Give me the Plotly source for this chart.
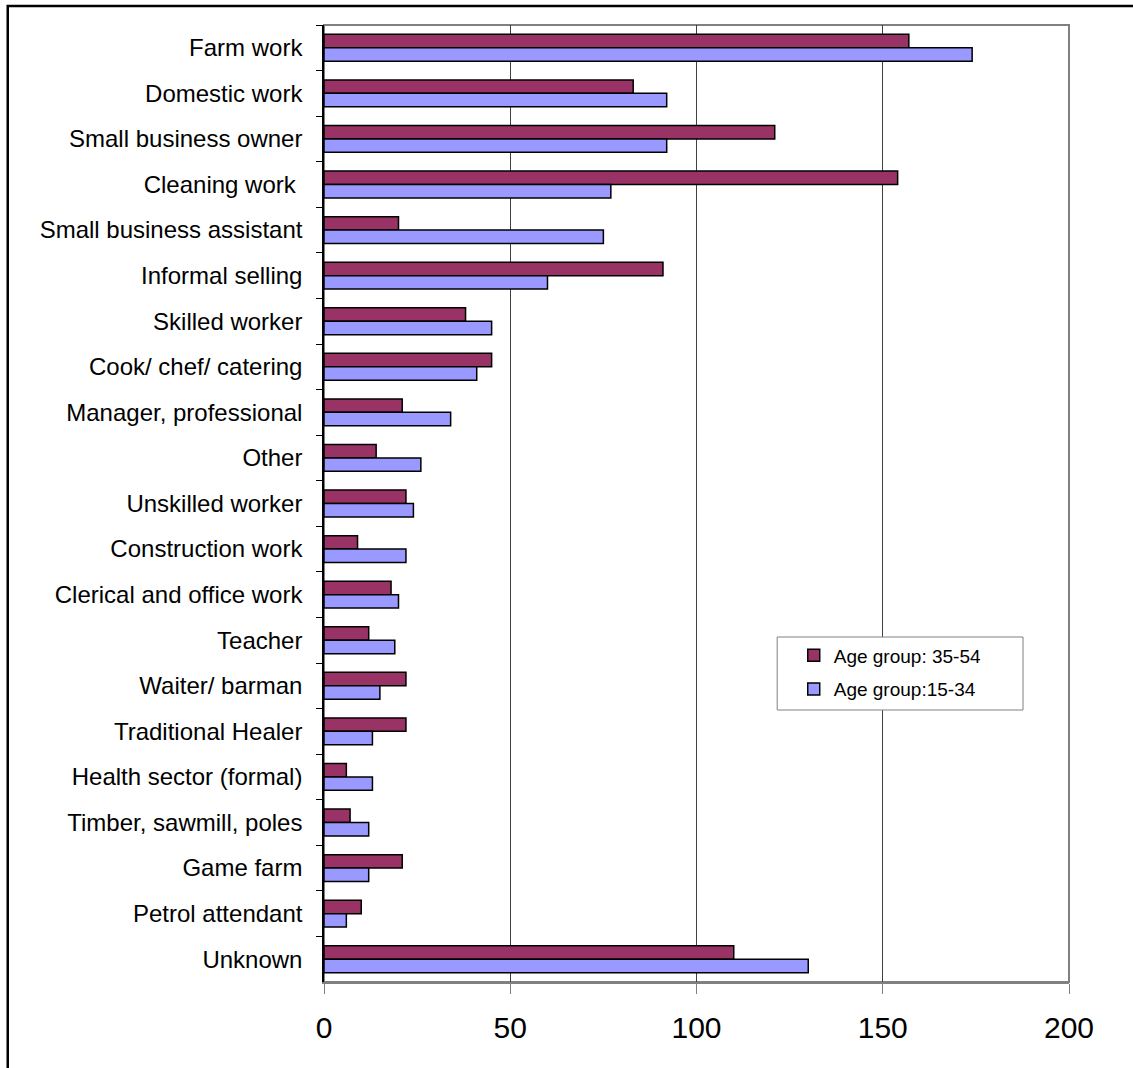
import plotly.graph_objects as go

# Occupation categories, listed top to bottom
occupations = [
    "Farm work", "Domestic work", "Small business owner", "Cleaning work ",
    "Small business assistant", "Informal selling", "Skilled worker",
    "Cook/ chef/ catering", "Manager, professional", "Other",
    "Unskilled worker", "Construction work", "Clerical and office work",
    "Teacher", "Waiter/ barman", "Traditional Healer",
    "Health sector (formal)", "Timber, sawmill, poles", "Game farm",
    "Petrol attendant", "Unknown",
]

age_35_54 = [157, 83, 121, 154, 20, 91, 38, 45, 21, 14, 22, 9, 18, 12, 22, 22,
             6, 7, 21, 10, 110]
age_15_34 = [174, 92, 92, 77, 75, 60, 45, 41, 34, 26, 24, 22, 20, 19, 15, 13,
             13, 12, 12, 6, 130]

x_ticks = [0, 50, 100, 150, 200]

FONT = "Arial, Liberation Sans, sans-serif"

fig = go.Figure()
fig.add_trace(go.Bar(
    y=occupations, x=age_35_54, orientation="h", name="Age group: 35-54",
    legendgroup="older",
    marker=dict(color="#993366", line=dict(color="#000000", width=1.5)),
))
fig.add_trace(go.Bar(
    y=occupations, x=age_15_34, orientation="h", name="Age group:15-34",
    legendgroup="younger",
    marker=dict(color="#9999FF", line=dict(color="#000000", width=1.5)),
))

fig.update_layout(
    width=1133, height=1068,
    margin=dict(l=323.5, r=64, t=25, b=86, pad=0),
    paper_bgcolor="white", plot_bgcolor="white",
    barmode="group", bargap=0.41, bargroupgap=0,
    font=dict(family=FONT, color="#000000"),
    showlegend=True,
    legend=dict(
        x=0.6305, y=0.361, xanchor="left", yanchor="top",
        bgcolor="rgba(0,0,0,0)", borderwidth=0,
        font=dict(size=19, family=FONT),
        itemwidth=30, tracegroupgap=6,
    ),
    xaxis=dict(
        range=[0, 200], tickvals=x_ticks, ticktext=[str(v) for v in x_ticks],
        showgrid=True, gridcolor="#404040", gridwidth=1,
        showline=True, linecolor="#808080", linewidth=2,
        ticks="outside", ticklen=10, tickcolor="#808080", tickwidth=1,
        tickfont=dict(size=30, family=FONT), ticklabelstandoff=8,
        zeroline=False, fixedrange=True,
    ),
    yaxis=dict(
        categoryorder="array", categoryarray=occupations,
        autorange="reversed",
        showgrid=False, showline=True, linecolor="#000000", linewidth=1.5,
        ticks="outside", ticklen=6, tickcolor="#000000", tickwidth=1,
        tickson="boundaries",
        tickfont=dict(size=24, family=FONT), ticklabelstandoff=15,
        fixedrange=True,
    ),
    shapes=[
        # gray frame around the plotting area
        dict(type="rect", xref="paper", yref="paper", x0=0, x1=1, y0=0, y1=1,
             line=dict(color="#808080", width=2), layer="below"),
        # legend box, covering the gridline behind it
        dict(type="rect", xref="paper", yref="paper",
             x0=(777 - 323.5) / 745.5, x1=(1023 - 323.5) / 745.5,
             y0=1 - (710 - 25) / 957, y1=1 - (637 - 25) / 957,
             fillcolor="white", line=dict(color="#808080", width=1),
             layer="above"),
        # outer border of the chart
        dict(type="rect", xref="paper", yref="paper",
             x0=-0.4245, x1=1.2, y0=-0.2, y1=1.0199,
             line=dict(color="#000000", width=2.5)),
    ],
)

fig.write_html("out.html")
